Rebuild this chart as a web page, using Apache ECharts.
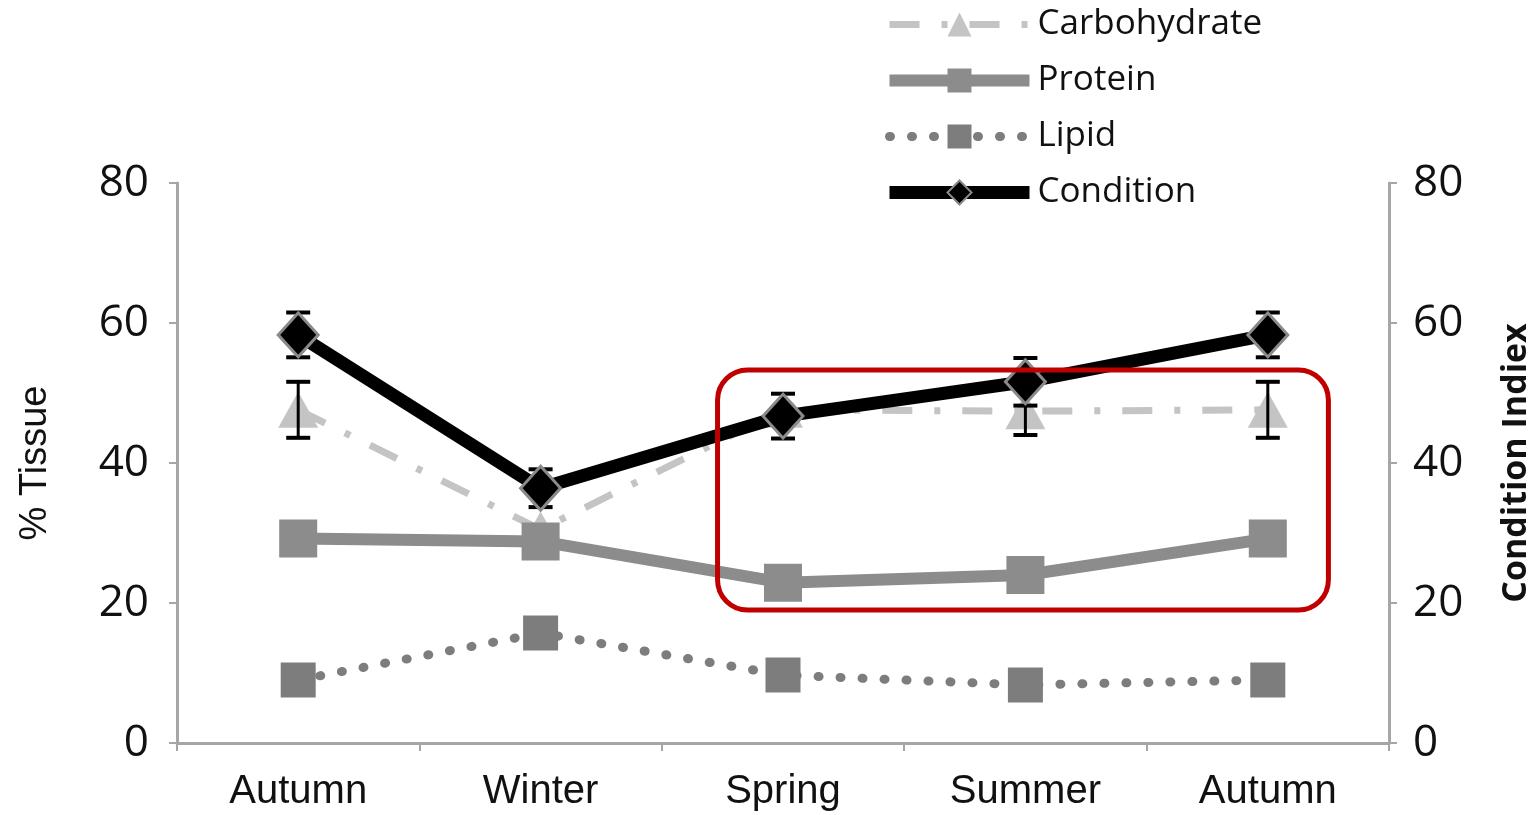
<!DOCTYPE html>
<html>
<head>
<meta charset="utf-8">
<style>
  html, body { margin: 0; padding: 0; background: #fff; }
  #chart { width: 1537px; height: 815px; }
</style>
<script src="https://cdn.jsdelivr.net/npm/echarts@6/dist/echarts.min.js"></script>
</head>
<body>
<div id="chart"></div>
<script>
// Seasonal tissue composition (%) and condition index
const seasons = ['Autumn', 'Winter', 'Spring', 'Summer', 'Autumn'];
const carbohydrate = [47.6, 30.5, 47.6, 47.4, 47.6];
const carbohydrateErr = [4.0, null, null, 3.4, 4.0];
const protein = [29.2, 28.8, 22.9, 24.0, 29.2];
const lipid = [9.0, 15.7, 9.7, 8.3, 9.0];
const condition = [58.3, 36.4, 46.7, 51.6, 58.3];
const conditionErr = [3.2, 2.7, 3.2, 3.4, 3.2];
const yTicks = [0, 20, 40, 60, 80];
// highlighted region: from between Winter/Spring to past the last Autumn
const highlight = { fromIdx: 1.73, toIdx: 4.25, top: 53.3, bottom: 19.0 };

const chart = echarts.init(document.getElementById('chart'));

function errorRows(values, errs) {
  const rows = [];
  values.forEach((v, i) => {
    if (errs[i] != null) rows.push([i, v - errs[i], v + errs[i]]);
  });
  return rows;
}

function errorBarRenderer(params, api) {
  const x = api.value(0);
  const lo = api.coord([x, api.value(1)]);
  const hi = api.coord([x, api.value(2)]);
  const half = 12;
  const style = { stroke: '#000', lineWidth: 4, fill: null };
  return {
    type: 'group',
    children: [
      { type: 'line', shape: { x1: lo[0], y1: lo[1], x2: hi[0], y2: hi[1] }, style: { stroke: '#000', lineWidth: 3 } },
      { type: 'line', shape: { x1: hi[0] - half, y1: hi[1], x2: hi[0] + half, y2: hi[1] }, style },
      { type: 'line', shape: { x1: lo[0] - half, y1: lo[1], x2: lo[0] + half, y2: lo[1] }, style }
    ]
  };
}

const axisGray = '#a6a6a6';
const tickFont = { fontFamily: 'Open Sans', fontSize: 44, color: '#111' };

const carbLine = { color: '#c4c4c4', width: 7, type: [30, 22, 6, 22] };
const proteinLine = { color: '#8c8c8c', width: 12 };
const lipidLine = { color: '#7d7d7d', width: 9, type: [1, 21], cap: 'round' };
const conditionLine = { color: '#000', width: 13 };

const option = {
  animation: false,
  backgroundColor: '#fff',
  grid: { left: 177, right: 148, top: 183, bottom: 72, outerBoundsMode: 'none' },
  legend: {
    orient: 'vertical',
    left: 878,
    top: 2,
    itemWidth: 140,
    itemHeight: 30,
    itemGap: 21,
    data: [
      { name: 'Carbohydrate', lineStyle: { width: 7, type: [30, 22, 6, 22] } },
      { name: 'Protein', lineStyle: { width: 12 } },
      { name: 'Lipid', lineStyle: { width: 9, type: [1, 21], cap: 'round' } },
      { name: 'Condition', lineStyle: { width: 13 } }
    ],
    textStyle: { fontFamily: 'Open Sans', fontSize: 35, color: '#111', padding: [0, 0, 0, 3] }
  },
  xAxis: {
    type: 'category',
    data: seasons,
    boundaryGap: true,
    axisLine: { lineStyle: { color: axisGray, width: 3 } },
    axisTick: { show: true, length: 8, lineStyle: { color: axisGray, width: 2 } },
    axisLabel: { fontFamily: 'Liberation Sans', fontSize: 40, color: '#111', margin: 29 }
  },
  yAxis: [
    {
      type: 'value', min: 0, max: 80, interval: 20,
      name: '% Tissue', nameLocation: 'middle', nameGap: 122,
      nameTextStyle: { fontFamily: 'Liberation Sans', fontSize: 38, color: '#111' },
      axisLine: { show: true, lineStyle: { color: axisGray, width: 3 } },
      axisTick: { show: true, length: 8, lineStyle: { color: axisGray, width: 2 } },
      axisLabel: Object.assign({ margin: 28, formatter: v => yTicks.includes(v) ? String(v) : '' }, tickFont),
      splitLine: { show: false }
    },
    {
      type: 'value', min: 0, max: 80, interval: 20, position: 'right',
      name: 'Condition Indiex', nameLocation: 'middle', nameGap: 110,
      nameTextStyle: { fontFamily: 'Open Sans', fontWeight: 'bold', fontSize: 34, color: '#111' },
      axisLine: { show: true, lineStyle: { color: axisGray, width: 3 } },
      axisTick: { show: true, length: 8, lineStyle: { color: axisGray, width: 2 } },
      axisLabel: Object.assign({ margin: 24, formatter: v => yTicks.includes(v) ? String(v) : '' }, tickFont),
      splitLine: { show: false }
    }
  ],
  series: [
    {
      name: 'Carbohydrate', type: 'line', data: carbohydrate, z: 2,
      symbol: 'triangle', symbolSize: [40, 36],
      itemStyle: { color: '#c4c4c4' },
      lineStyle: carbLine
    },
    {
      name: 'carbohydrate error', type: 'custom', data: errorRows(carbohydrate, carbohydrateErr),
      renderItem: errorBarRenderer, z: 3, silent: true
    },
    {
      name: 'Protein', type: 'line', data: protein, z: 4,
      symbol: 'rect', symbolSize: 38,
      itemStyle: { color: '#8c8c8c' },
      lineStyle: proteinLine
    },
    {
      name: 'Lipid', type: 'line', data: lipid, z: 4,
      symbol: 'rect', symbolSize: 35,
      itemStyle: { color: '#7d7d7d' },
      lineStyle: lipidLine
    },
    {
      name: 'condition error', type: 'custom', yAxisIndex: 1, data: errorRows(condition, conditionErr),
      renderItem: errorBarRenderer, z: 5, silent: true
    },
    {
      name: 'Condition', type: 'line', yAxisIndex: 1, data: condition, z: 6,
      symbol: 'diamond', symbolSize: [40, 44],
      itemStyle: { color: '#000', borderColor: '#8a8a8a', borderWidth: 3 },
      lineStyle: conditionLine
    }
  ]
};

chart.setOption(option);

// Red rounded frame around the spring–autumn section
const p2 = chart.convertToPixel({ xAxisIndex: 0 }, 2);
const p4 = chart.convertToPixel({ xAxisIndex: 0 }, 4);
const step = (p4 - p2) / 2;
const xl = p2 + (highlight.fromIdx - 2) * step;
const xr = p2 + (highlight.toIdx - 2) * step;
const yt = chart.convertToPixel({ yAxisIndex: 0 }, highlight.top);
const yb = chart.convertToPixel({ yAxisIndex: 0 }, highlight.bottom);
chart.setOption({
  graphic: [{
    type: 'rect', z: 100,
    shape: { x: xl, y: yt, width: xr - xl, height: yb - yt, r: 30 },
    style: { fill: null, stroke: '#c00000', lineWidth: 5 }
  }]
});
</script>
</body>
</html>
